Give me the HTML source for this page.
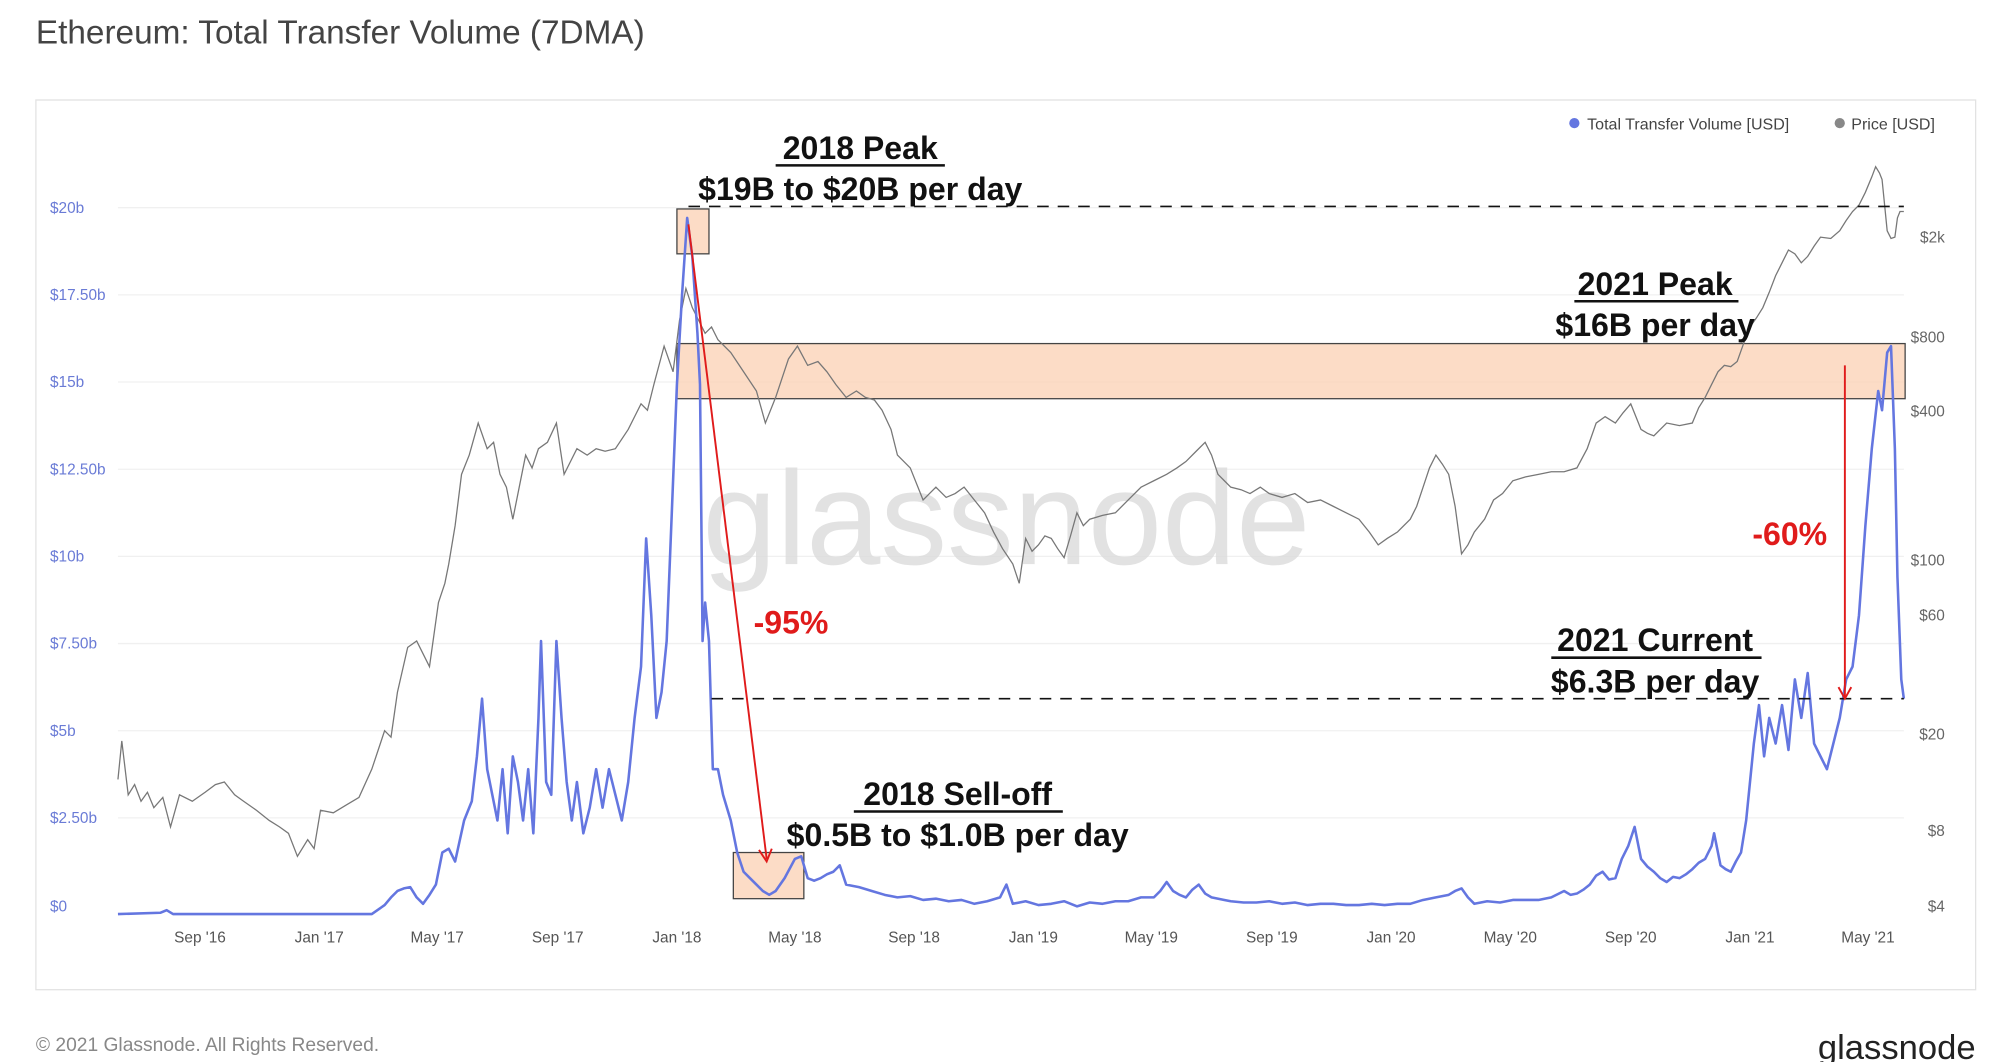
<!DOCTYPE html>
<html><head><meta charset="utf-8"><style>
html,body{margin:0;padding:0;background:#fff;}
svg{display:block;font-family:"Liberation Sans",sans-serif;}
</style></head><body>
<svg width="2000" height="1062" viewBox="0 0 1560 828.4" preserveAspectRatio="none" xmlns="http://www.w3.org/2000/svg">
<rect width="1560" height="830" fill="#fff"/>
<text x="28" y="34" font-size="26" fill="#444">Ethereum: Total Transfer Volume (7DMA)</text>
<rect x="28" y="78" width="1513" height="694" fill="#fff" stroke="#e2e2e2"/>
<g stroke="#f0f0f0" stroke-width="1">
<line x1="92" x2="1485" y1="162" y2="162"/><line x1="92" x2="1485" y1="230" y2="230"/>
<line x1="92" x2="1485" y1="298" y2="298"/><line x1="92" x2="1485" y1="366" y2="366"/>
<line x1="92" x2="1485" y1="434" y2="434"/><line x1="92" x2="1485" y1="502" y2="502"/>
<line x1="92" x2="1485" y1="570" y2="570"/><line x1="92" x2="1485" y1="638" y2="638"/>
</g>
<g font-size="12" fill="#6a7bd6">
<text x="39" y="166">$20b</text><text x="39" y="234">$17.50b</text><text x="39" y="302">$15b</text>
<text x="39" y="370">$12.50b</text><text x="39" y="438">$10b</text><text x="39" y="506">$7.50b</text>
<text x="39" y="574">$5b</text><text x="39" y="642">$2.50b</text><text x="39" y="711">$0</text>
</g>
<g font-size="12" fill="#666" text-anchor="end">
<text x="1517" y="189">$2k</text><text x="1517" y="267">$800</text><text x="1517" y="325">$400</text>
<text x="1517" y="441">$100</text><text x="1517" y="484">$60</text><text x="1517" y="577">$20</text>
<text x="1517" y="652">$8</text><text x="1517" y="711">$4</text>
</g>
<g font-size="12" fill="#555" text-anchor="middle">
<text x="156" y="735">Sep '16</text><text x="249" y="735">Jan '17</text><text x="341" y="735">May '17</text>
<text x="435" y="735">Sep '17</text><text x="528" y="735">Jan '18</text><text x="620" y="735">May '18</text>
<text x="713" y="735">Sep '18</text><text x="806" y="735">Jan '19</text><text x="898" y="735">May '19</text>
<text x="992" y="735">Sep '19</text><text x="1085" y="735">Jan '20</text><text x="1178" y="735">May '20</text>
<text x="1272" y="735">Sep '20</text><text x="1365" y="735">Jan '21</text><text x="1457" y="735">May '21</text>
</g>
<circle cx="1228" cy="96" r="4" fill="#6476e0"/><text x="1238" y="101" font-size="12.5" fill="#444">Total Transfer Volume [USD]</text>
<circle cx="1435" cy="96" r="4" fill="#888"/><text x="1444" y="101" font-size="12.5" fill="#444">Price [USD]</text>
<text x="785" y="440" font-size="104" fill="#dcdcdc" text-anchor="middle" opacity="0.8">glassnode</text>
<rect x="528" y="268" width="958" height="43" fill="#fbd3b8" fill-opacity="0.8" stroke="#444"/>
<rect x="528" y="163" width="25" height="35" fill="#fbd3b8" fill-opacity="0.8" stroke="#444"/>
<rect x="572" y="665" width="55" height="36" fill="#fbd3b8" fill-opacity="0.8" stroke="#444"/>
<polyline fill="none" stroke="#777" stroke-width="1" points="92,608 95,578 100,620 105,612 110,625 115,618 120,630 127,622 133,645 140,620 150,625 160,618 168,612 175,610 183,620 190,625 200,632 210,640 218,645 225,650 232,668 240,655 245,662 250,632 260,634 270,628 280,622 290,600 300,570 305,575 310,540 318,505 325,500 330,510 335,520 342,470 347,455 350,440 355,410 360,370 366,355 373,330 380,350 385,345 390,370 395,380 400,405 405,380 410,355 415,365 420,350 427,345 434,330 440,370 445,360 450,350 458,355 465,350 472,352 480,350 490,335 500,315 505,320 510,300 518,270 525,290 530,250 535,225 540,240 545,250 550,260 555,255 560,265 570,275 580,290 590,305 597,330 605,310 615,280 622,270 630,285 638,282 645,290 652,300 660,310 668,305 675,310 682,312 688,320 695,335 700,355 710,365 720,390 725,385 730,380 738,388 745,385 752,380 760,390 768,400 775,415 782,428 790,440 795,455 800,420 805,430 810,425 815,418 820,420 825,428 830,435 835,418 840,400 845,410 850,405 860,402 870,400 880,390 890,380 900,375 910,370 918,365 925,360 933,352 940,345 945,355 950,370 955,375 960,380 968,382 975,385 983,380 990,385 1000,388 1010,385 1020,392 1030,390 1040,395 1050,400 1060,405 1068,415 1075,425 1082,420 1090,415 1100,405 1105,395 1110,380 1115,365 1120,355 1125,362 1130,370 1135,395 1140,432 1145,425 1150,415 1158,405 1165,390 1172,385 1180,375 1190,372 1200,370 1210,368 1220,368 1230,365 1238,350 1245,330 1252,325 1260,330 1266,322 1272,315 1276,325 1280,335 1285,338 1290,340 1295,335 1300,330 1310,332 1320,330 1325,318 1330,310 1335,300 1340,290 1345,285 1350,286 1355,282 1360,268 1365,255 1370,248 1375,240 1380,228 1385,215 1390,205 1395,195 1400,198 1405,205 1410,200 1415,192 1420,185 1428,186 1435,180 1440,172 1445,165 1450,160 1455,150 1460,138 1463,130 1466,135 1468,140 1470,160 1472,180 1475,186 1478,185 1480,170 1482,165 1485,165"/>
<polyline fill="none" stroke="#6476e0" stroke-width="2" stroke-linejoin="round" points="92,713 125,712 130,710 135,713 290,713 300,706 305,700 310,695 315,693 320,692 325,700 330,705 335,698 340,690 345,665 350,662 355,672 362,640 368,625 372,590 376,545 380,600 384,620 388,640 392,600 396,650 400,590 404,610 408,640 412,600 416,650 420,560 422,500 426,610 430,620 434,500 438,560 442,610 446,640 450,610 455,650 460,630 465,600 470,630 475,600 480,620 485,640 490,610 495,560 500,520 504,420 508,480 512,560 516,540 520,500 524,400 528,300 532,230 536,170 540,200 544,260 546,300 548,500 550,470 553,500 556,600 560,600 564,620 570,640 575,665 580,680 585,685 590,690 595,695 600,698 605,695 612,685 620,670 625,668 630,685 635,687 640,685 645,682 650,680 655,675 660,690 670,692 680,695 690,698 700,700 710,699 720,702 730,701 740,703 750,702 760,705 770,703 780,700 785,690 790,705 800,703 810,706 820,705 830,703 840,707 850,704 860,705 870,703 880,703 890,700 900,700 905,695 910,688 915,695 920,698 925,700 930,694 935,690 940,697 945,700 955,702 960,703 970,704 980,704 990,703 1000,705 1010,704 1020,706 1030,705 1040,705 1050,706 1060,706 1070,705 1080,706 1090,705 1100,705 1110,702 1120,700 1130,698 1135,695 1140,693 1145,700 1150,705 1160,703 1170,704 1180,702 1190,702 1200,702 1210,700 1220,695 1225,698 1230,697 1235,694 1240,690 1245,683 1250,680 1255,686 1260,685 1265,670 1270,660 1275,645 1280,670 1285,676 1290,680 1295,685 1300,688 1305,684 1310,685 1315,682 1320,678 1325,673 1330,670 1335,660 1337,650 1340,665 1342,675 1346,678 1350,680 1354,672 1358,665 1362,640 1365,610 1368,580 1372,550 1376,590 1380,560 1385,580 1390,550 1395,585 1400,530 1405,560 1410,525 1415,580 1420,590 1425,600 1430,580 1435,560 1440,530 1445,520 1450,480 1455,410 1460,350 1465,305 1468,320 1472,275 1475,270 1478,350 1480,450 1483,530 1485,545"/>
<g stroke="#111" stroke-width="1.3" stroke-dasharray="9,7">
<line x1="537" x2="1485" y1="161" y2="161"/>
<line x1="555" x2="1485" y1="545" y2="545"/>
</g>
<g stroke="#e01b1b" stroke-width="1.5" fill="none">
<line x1="537" y1="175" x2="598" y2="670"/>
<polyline points="592,663 598,672 602,662"/>
<line x1="1439" y1="285" x2="1439" y2="544"/>
<polyline points="1434,536 1439,545 1444,536"/>
</g>
<g font-size="25" fill="#111" text-anchor="middle" font-weight="bold">
<text x="671" y="124">2018 Peak</text>
<text x="671" y="156">$19B to $20B per day</text>
<text x="1291" y="230">2021 Peak</text>
<text x="1291" y="262">$16B per day</text>
<text x="1291" y="508">2021 Current</text>
<text x="1291" y="540">$6.3B per day</text>
<text x="747" y="628">2018 Sell-off</text>
<text x="747" y="660">$0.5B to $1.0B per day</text>
</g>
<line x1="605" x2="737" y1="129" y2="129" stroke="#111" stroke-width="2"/>
<line x1="1228" x2="1356" y1="235" y2="235" stroke="#111" stroke-width="2"/>
<line x1="1210" x2="1374" y1="513" y2="513" stroke="#111" stroke-width="2"/>
<line x1="666" x2="829" y1="633" y2="633" stroke="#111" stroke-width="2"/>
<g font-size="25" fill="#e01b1b" text-anchor="middle" font-weight="bold">
<text x="617" y="494">-95%</text>
<text x="1396" y="425">-60%</text>
</g>
<text x="28" y="820" font-size="15" fill="#888">© 2021 Glassnode. All Rights Reserved.</text>
<text x="1541" y="826" font-size="27" fill="#222" text-anchor="end">glassnode</text>
</svg>
</body></html>
